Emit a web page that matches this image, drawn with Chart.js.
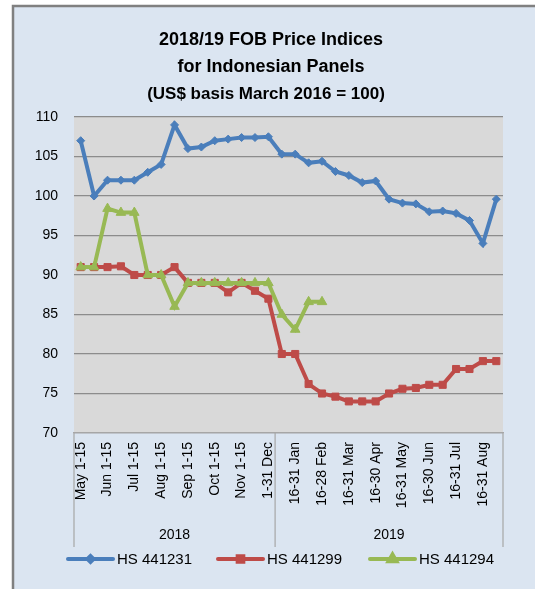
<!DOCTYPE html>
<html>
<head>
<meta charset="utf-8">
<script src="https://cdn.jsdelivr.net/npm/chart.js@4.4.0/dist/chart.umd.min.js"></script>
<style>
  html, body { margin: 0; padding: 0; background: #ffffff; }
  #wrap { width: 535px; height: 589px; position: relative; }
</style>
</head>
<body>
<div id="wrap"><canvas id="c" width="535" height="589"></canvas></div>
<script>
// ---- data ----
const categories = [
  "May 1-15", "May 16-31", "Jun 1-15", "Jun 16-30", "Jul 1-15", "Jul 16-31",
  "Aug 1-15", "Aug 16-31", "Sep 1-15", "Sep 16-30", "Oct 1-15", "Oct 16-31",
  "Nov 1-15", "Nov 16-30", "1-31 Dec",
  "1-15 Jan", "16-31 Jan", "1-15 Feb", "16-28 Feb", "1-15 Mar", "16-31 Mar",
  "1-15 Apr", "16-30 Apr", "1-15 May", "16-31 May", "1-15 Jun", "16-30 Jun",
  "1-15 Jul", "16-31 Jul", "1-15 Aug", "16-31 Aug", "1-15 Sep"
];
const yearGroups = ["2018", "2019"];
const yearGroupSizes = [15, 17];
const seriesNames = ["HS 441231", "HS 441299", "HS 441294"];
const hs441231 = [107, 100, 102, 102, 102, 103, 104, 109, 106, 106.2, 107, 107.2,
  107.4, 107.4, 107.5, 105.3, 105.3, 104.2, 104.4, 103.1, 102.6, 101.7, 101.9,
  99.6, 99.1, 99.0, 98.0, 98.1, 97.8, 96.9, 94.0, 99.6];
const hs441299 = [91, 91, 91, 91.1, 90, 90, 90, 91, 89, 89, 89, 87.8, 89, 88, 87,
  80, 80, 76.2, 75, 74.6, 74, 74, 74, 75, 75.6, 75.7, 76.1, 76.1, 78.1, 78.1, 79.1, 79.1];
const hs441294 = [91, 91, 98.4, 97.9, 97.9, 90, 90, 86, 89, 89, 89, 89, 89, 89, 89,
  85, 83.1, 86.6, 86.6, null, null, null, null, null, null, null, null, null, null, null, null, null];
const titleLines = ["2018/19 FOB Price Indices", "for Indonesian Panels", "(US$ basis March 2016 = 100)"];

const FONT = "'Liberation Sans', Arial, sans-serif";
const colors = ["#4a7ebb", "#be4b48", "#98b954"];
const markers = ["rectRot", "rect", "triangle"];
const markerRadius = [4, 5, 5.5];
const drawOrder = [2, 1, 0];

const frame = {
  id: 'frame',
  beforeDraw(chart) {
    const ctx = chart.ctx;
    const a = chart.chartArea;
    ctx.save();
    ctx.fillStyle = '#ffffff';
    ctx.fillRect(0, 0, chart.width, chart.height);
    ctx.fillStyle = '#dbe5f1';
    ctx.fillRect(13, 6, chart.width, chart.height);
    ctx.strokeStyle = '#808080';
    ctx.lineWidth = 2.5;
    ctx.beginPath();
    ctx.moveTo(13, chart.height + 5);
    ctx.lineTo(13, 6);
    ctx.lineTo(chart.width + 5, 6);
    ctx.stroke();
    // plot area
    ctx.fillStyle = '#d9d9d9';
    ctx.fillRect(a.left, a.top, a.right - a.left, a.bottom - a.top);
    // title
    ctx.fillStyle = '#000000';
    ctx.textAlign = 'center';
    ctx.textBaseline = 'middle';
    ctx.font = "bold 18px " + FONT;
    ctx.fillText(titleLines[0], 271, 40);
    ctx.fillText(titleLines[1], 271, 67);
    ctx.font = "bold 17px " + FONT;
    ctx.fillText(titleLines[2], 266, 94);
    ctx.restore();
  },
  afterDraw(chart) {
    const ctx = chart.ctx;
    const a = chart.chartArea;
    const xs = chart.scales.x;
    const bottom = a.bottom + 114;
    ctx.save();
    ctx.strokeStyle = '#a6a6a6';
    ctx.lineWidth = 1.2;
    // group dividers
    let start = 0;
    const edges = [a.left];
    yearGroupSizes.forEach((n) => {
      const end = start + n - 1;
      let xr;
      if (end >= categories.length - 1) xr = a.right;
      else xr = (xs.getPixelForValue(end) + xs.getPixelForValue(end + 1)) / 2;
      edges.push(xr);
      start += n;
    });
    edges.forEach(x => {
      ctx.beginPath();
      ctx.moveTo(x, a.bottom);
      ctx.lineTo(x, bottom);
      ctx.stroke();
    });
    ctx.fillStyle = '#000000';
    ctx.font = "14px " + FONT;
    ctx.textAlign = 'center';
    ctx.textBaseline = 'middle';
    yearGroups.forEach((g, i) => {
      ctx.fillText(g, (edges[i] + edges[i + 1]) / 2, 535);
    });
    // legend
    const lx = [68, 218, 370];
    const ly = 559;
    seriesNames.forEach((name, i) => {
      ctx.strokeStyle = colors[i];
      ctx.fillStyle = colors[i];
      ctx.lineWidth = 4;
      ctx.lineCap = 'round';
      ctx.beginPath();
      ctx.moveTo(lx[i], ly);
      ctx.lineTo(lx[i] + 45, ly);
      ctx.stroke();
      Chart.helpers.drawPoint(ctx, {pointStyle: markers[i], radius: markerRadius[i] - 1, borderWidth: 1}, lx[i] + 22.5, ly);
      ctx.fillStyle = '#000000';
      ctx.font = "15px " + FONT;
      ctx.textAlign = 'left';
      ctx.fillText(name, lx[i] + 49, ly + 1);
    });
    ctx.restore();
  }
};

const datasets = [hs441231, hs441299, hs441294].map((d, i) => ({
  label: seriesNames[i],
  data: d,
  order: drawOrder[i],
  borderColor: colors[i],
  backgroundColor: colors[i],
  borderWidth: 4,
  pointStyle: markers[i],
  pointRadius: markerRadius[i],
  pointBorderWidth: 1,
  pointBackgroundColor: colors[i],
  pointBorderColor: colors[i],
  tension: 0,
  spanGaps: false
}));

new Chart(document.getElementById('c'), {
  type: 'line',
  data: { labels: categories, datasets },
  options: {
    responsive: false,
    animation: false,
    devicePixelRatio: 1,
    layout: { padding: { left: 13, top: 117, right: 32, bottom: 42 } },
    plugins: { legend: { display: false }, title: { display: false }, tooltip: { enabled: false } },
    scales: {
      x: {
        type: 'category',
        offset: true,
        afterFit(s) { s.height = 114; },
        grid: { display: false, drawTicks: false },
        border: { display: true, color: '#a6a6a6', width: 1.2 },
        ticks: {
          autoSkip: false,
          minRotation: 90,
          maxRotation: 90,
          padding: 9,
          color: '#000000',
          font: { family: FONT, size: 14 },
          callback(v, i) { return i % 2 === 0 ? categories[i] : ''; }
        }
      },
      y: {
        min: 70,
        max: 110,
        afterFit(s) { s.width = 61; },
        grid: { color: '#8c8c8c', lineWidth: 1.2, drawTicks: false },
        border: { display: false },
        ticks: {
          stepSize: 5,
          padding: 16,
          color: '#000000',
          font: { family: FONT, size: 14 }
        }
      }
    }
  },
  plugins: [frame]
});
</script>
</body>
</html>
